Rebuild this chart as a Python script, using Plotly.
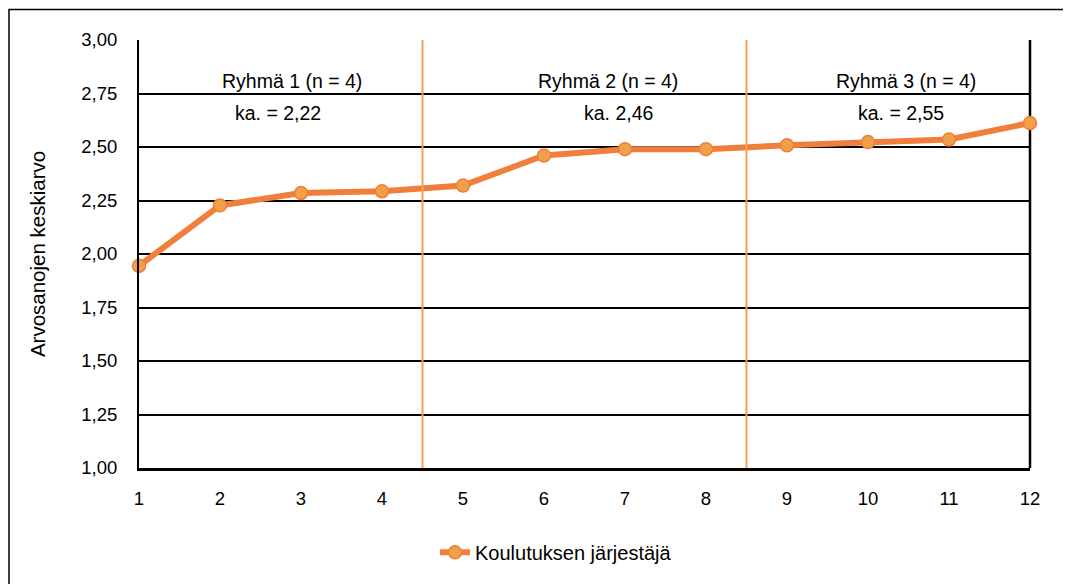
import plotly.graph_objects as go

x_vals = [1, 2, 3, 4, 5, 6, 7, 8, 9, 10, 11, 12]
y_vals = [1.945, 2.227, 2.285, 2.293, 2.32, 2.46, 2.49, 2.49, 2.508, 2.523, 2.535, 2.612]
series_name = "Koulutuksen järjestäjä"
group_dividers = [4.5, 8.5]
group_titles = ["Ryhmä 1 (n = 4)", "Ryhmä 2 (n = 4)", "Ryhmä 3 (n = 4)"]
group_title_x = [2.89, 6.79, 10.47]
group_means = ["ka. = 2,22", "ka. 2,46", "ka. = 2,55"]
group_mean_x = [2.72, 6.92, 10.41]
y_ticks = [1.0, 1.25, 1.5, 1.75, 2.0, 2.25, 2.5, 2.75, 3.0]
y_tick_text = ["1,00", "1,25", "1,50", "1,75", "2,00", "2,25", "2,50", "2,75", "3,00"]

FONT = "Liberation Sans, Arial, sans-serif"

fig = go.Figure()
fig.add_trace(go.Scatter(
    x=x_vals, y=y_vals, mode="lines+markers", name=series_name,
    line=dict(color="#F07F3C", width=6), cliponaxis=False,
    marker=dict(size=13, color="#F0A048", line=dict(color="#F07F3C", width=1.5)),
))

shapes = []
for d in group_dividers:
    shapes.append(dict(type="line", xref="x", yref="paper", x0=d, x1=d, y0=0, y1=1,
                       line=dict(color="#F4A04F", width=2), layer="above"))
# right border of plot area
shapes.append(dict(type="line", xref="paper", yref="paper", x0=1, x1=1, y0=0, y1=1,
                   line=dict(color="black", width=2.5), layer="below"))
# outer chart frame
shapes.append(dict(type="rect", xref="paper", yref="paper", x0=-0.1459, x1=1.1, y0=-0.4, y1=1.0714,
                   line=dict(color="black", width=1.5), fillcolor="rgba(0,0,0,0)", layer="below"))

annotations = []
for t, xx in zip(group_titles, group_title_x):
    annotations.append(dict(x=xx, y=2.807, xref="x", yref="y", text=t, showarrow=False,
                            font=dict(family=FONT, size=19.5, color="black")))
for t, xx in zip(group_means, group_mean_x):
    annotations.append(dict(x=xx, y=2.66, xref="x", yref="y", text=t, showarrow=False,
                            font=dict(family=FONT, size=19.5, color="black")))

fig.update_layout(
    width=1063, height=576,
    margin=dict(l=131, r=41, t=32, b=109),
    paper_bgcolor="white", plot_bgcolor="white",
    separators=", ",
    font=dict(family=FONT, size=18.5, color="black"),
    shapes=shapes, annotations=annotations,
    showlegend=True,
    legend=dict(orientation="h", x=0.468, xanchor="center", y=-0.197, yanchor="middle",
                font=dict(family=FONT, size=20, color="black")),
    xaxis=dict(range=[1, 12], tickmode="array", tickvals=x_vals,
               ticktext=[str(v) for v in x_vals], showgrid=False, zeroline=False,
               showline=True, linecolor="black", linewidth=2.5, ticks="", ticklabelstandoff=12,
               tickfont=dict(family=FONT, size=18.5)),
    yaxis=dict(range=[1, 3], tickmode="array", tickvals=y_ticks, ticktext=y_tick_text,
               showgrid=True, gridcolor="black", gridwidth=2, zeroline=False,
               showline=True, linecolor="black", linewidth=2, ticks="", ticklabelstandoff=16,
               tickfont=dict(family=FONT, size=18.5),
               title=dict(text="Arvosanojen keskiarvo", font=dict(family=FONT, size=20.5), standoff=30)),
)

fig.write_html("out.html")
